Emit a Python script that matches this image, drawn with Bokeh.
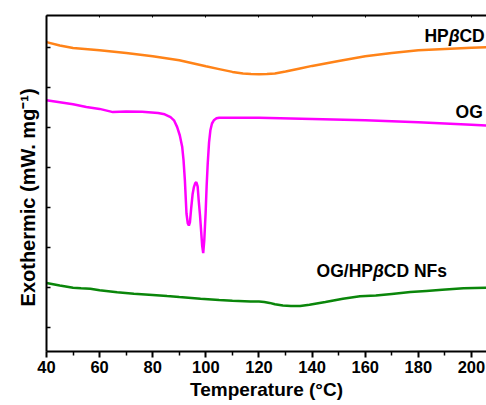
from bokeh.plotting import figure
from bokeh.models import LinearAxis, FixedTicker, Label, Range1d
from bokeh.embed import file_html
from bokeh.resources import INLINE

# ---------------- data ----------------
hp_temp = [40, 45, 50, 60, 70, 80, 90, 100, 105, 110, 114, 117, 120, 123, 126, 130, 135, 140, 150, 160,
           170, 180, 190, 200, 206]
hp_val = [7.125, 7.04, 6.98, 6.92, 6.855, 6.77, 6.67, 6.52, 6.45, 6.38, 6.34, 6.325, 6.32, 6.325, 6.34,
          6.39, 6.46, 6.53, 6.655, 6.77, 6.855, 6.92, 6.955, 6.985, 7.0]

og_temp = [40, 45, 50, 55, 60, 65, 70, 76, 82, 84.5, 86.7, 88, 89.2, 90.2, 91.1, 91.6, 92.1, 92.7, 93.2,
           93.6, 94.0, 94.5, 95.0, 95.5, 96.0, 96.4, 96.9, 97.3, 97.8, 98.2, 98.6, 99.0, 99.4, 99.9,
           100.3, 100.7, 101.2, 101.7, 102.3, 103, 104, 105, 110, 120, 140, 160, 180, 200, 206]
og_val = [5.67, 5.62, 5.57, 5.505, 5.455, 5.375, 5.39, 5.385, 5.35, 5.32, 5.25, 5.17, 5.0, 4.79, 4.5,
          4.17, 3.67, 2.84, 2.59, 2.54, 2.62, 2.99, 3.32, 3.5, 3.6, 3.625, 3.52, 3.17, 2.79, 2.42, 2.04,
          1.85, 2.17, 2.84, 3.54, 4.09, 4.62, 4.92, 5.09, 5.17, 5.22, 5.235, 5.235, 5.235, 5.205, 5.17,
          5.12, 5.06, 5.04]

nf_temp = [40, 45, 50, 53, 56.5, 60, 66.6, 72.9, 80, 85.4, 90, 98, 105, 110, 116.8, 120, 122, 124, 126,
           129, 132, 135.5, 139, 145, 151.6, 158, 164, 170, 177, 183, 189, 197, 206]
nf_val = [1.1, 1.04, 0.985, 0.97, 0.96, 0.92, 0.87, 0.835, 0.805, 0.775, 0.75, 0.71, 0.68, 0.66, 0.64,
          0.64, 0.63, 0.605, 0.57, 0.54, 0.525, 0.525, 0.56, 0.63, 0.71, 0.77, 0.79, 0.83, 0.875, 0.905,
          0.935, 0.97, 0.985]

x_ticks = [40, 60, 80, 100, 120, 140, 160, 180, 200]
x_minor = [50, 70, 90, 110, 130, 150, 170, 190]
y_ticks = [0, 1, 2, 3, 4, 5, 6, 7]

FONT = "Liberation Sans"
NB = "\u00a0"

p = figure(width=486, height=405, output_backend="svg", toolbar_location=None,
           x_range=Range1d(40, 205.66), y_range=Range1d(-0.61, 7.79),
           min_border_left=46, min_border_right=0, min_border_top=15, min_border_bottom=54,
           x_axis_label="Temperature (\u00b0C)",
           y_axis_label="Exothermic (mW. mg\u207b\u00b9)" + NB * 5)
p.grid.visible = False
p.outline_line_color = None
p.background_fill_color = "white"
p.border_fill_color = "white"

# curves
p.line(hp_temp, hp_val, line_color="#ff8318", line_width=2.5)
p.line(og_temp, og_val, line_color="#ff00ff", line_width=2.5)
p.line(nf_temp, nf_val, line_color="#0a860a", line_width=2.5)

# x axis
xa = p.xaxis[0]
xa.ticker = FixedTicker(ticks=x_ticks, minor_ticks=x_minor)
xa.axis_line_width = 2
xa.major_tick_line_width = 2
xa.minor_tick_line_width = 1.5
xa.major_tick_out = 6
xa.major_tick_in = 0
xa.minor_tick_out = 4
xa.minor_tick_in = 0
xa.major_label_text_font = FONT
xa.major_label_text_font_style = "bold"
xa.major_label_text_font_size = "16.5px"
xa.major_label_text_color = "black"
xa.major_label_standoff = 3
xa.axis_label_text_font = FONT
xa.axis_label_text_font_style = "bold"
xa.axis_label_text_font_size = "19px"
xa.axis_label_text_color = "black"
xa.axis_label_standoff = 3

# y axis (no tick labels)
ya = p.yaxis[0]
ya.ticker = FixedTicker(ticks=y_ticks, minor_ticks=[])
ya.axis_line_width = 2
ya.major_tick_line_width = 1.5
ya.major_tick_in = 4
ya.major_tick_out = 0
ya.minor_tick_in = 0
ya.minor_tick_out = 0
ya.major_label_overrides = {t: "" for t in y_ticks}
ya.major_label_standoff = 0
ya.axis_label_text_font = FONT
ya.axis_label_text_font_style = "bold"
ya.axis_label_text_font_size = "20px"
ya.axis_label_text_color = "black"
ya.axis_label_standoff = 8

# top border axis
top = LinearAxis(ticker=FixedTicker(ticks=x_ticks, minor_ticks=x_minor))
top.axis_line_width = 2
top.major_tick_in = 2
top.major_tick_out = 0
top.minor_tick_in = 0
top.minor_tick_out = 0
top.major_label_overrides = {t: "" for t in x_ticks}
top.major_label_standoff = 0
p.add_layout(top, "above")

# curve labels
scale = 440 / 165.66
FS = 17.5


def px(dx):
    return dx / scale


def add_label(x, y, text, style="bold"):
    p.add_layout(Label(x=x, y=y, text=text, text_font=FONT, text_font_style=style,
                       text_font_size=f"{FS}px", text_color="black", text_baseline="middle",
                       text_align="left"))


# HPβCD
hx, hy = 182.3, 7.29
add_label(hx, hy, "HP")
add_label(hx + px(24.3), hy, "\u03b2", "bold italic")
add_label(hx + px(35.0), hy, "CD")
# OG
add_label(194.0, 5.37, "OG")
# OG/HPβCD NFs
nx, ny = 141.7, 1.405
add_label(nx, ny, "OG/HP")
add_label(nx + px(56.4), ny, "\u03b2", "bold italic")
add_label(nx + px(67.2), ny, "CD NFs")

open("out.html", "w").write(file_html(p, INLINE))
